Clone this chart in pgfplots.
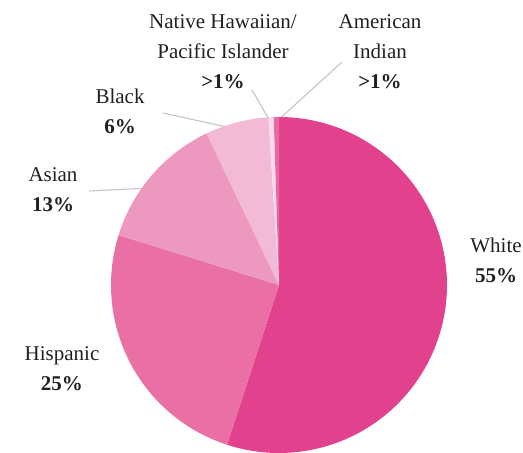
\documentclass[border=0pt]{standalone}
\usepackage{fontspec}
\setmainfont{Liberation Serif}
\usepackage{pgfplots}
\pgfplotsset{compat=1.18}
\definecolor{cWhite}{HTML}{E2418D}
\definecolor{cHisp}{HTML}{E96FA5}
\definecolor{cAsian}{HTML}{ED98BF}
\definecolor{cBlack}{HTML}{F3BAD6}
\definecolor{cNHPI}{HTML}{F8DAE9}
\definecolor{cAI}{HTML}{E56AA3}
\definecolor{txt}{HTML}{231F20}
\definecolor{lead}{HTML}{C4C4C4}
% shares (percent), clockwise from the top
\def\pWhite{55}
\def\pHisp{24.8}
\def\pAsian{13.1}
\def\pBlack{6.1}
\def\pNHPI{0.5}
\def\pAI{0.5}
\pgfmathsetmacro\aA{90}
\pgfmathsetmacro\aB{\aA-3.6*\pWhite}
\pgfmathsetmacro\aC{\aB-3.6*\pHisp}
\pgfmathsetmacro\aD{\aC-3.6*\pAsian}
\pgfmathsetmacro\aE{\aD-3.6*\pBlack}
\pgfmathsetmacro\aF{\aE-3.6*\pNHPI}
\pgfmathsetmacro\aG{\aF-3.6*\pAI}
\begin{document}
\begin{tikzpicture}
\begin{axis}[width=523pt,height=453pt,scale only axis,
  xmin=0,xmax=523,ymin=0,ymax=453,hide axis,clip=false]
\path (axis cs:0,0) rectangle (axis cs:523,453);
% leader lines
\draw[lead,line width=1.1pt] (axis cs:163,340) -- (axis cs:240,323);
\draw[lead,line width=1.1pt] (axis cs:89,262) -- (axis cs:150,265);
\draw[lead,line width=1.1pt] (axis cs:252,363) -- (axis cs:271,330);
\draw[lead,line width=1.1pt] (axis cs:342,391) -- (axis cs:275,330);
% slices
\addplot[fill=cWhite,draw=none,domain=\aB:\aA,samples=120] ({279+168*cos(x)},{168+168*sin(x)}) -- (axis cs:279,168) -- cycle;
\addplot[fill=cHisp,draw=none,domain=\aC:\aB,samples=60] ({279+168*cos(x)},{168+168*sin(x)}) -- (axis cs:279,168) -- cycle;
\addplot[fill=cAsian,draw=none,domain=\aD:\aC,samples=40] ({279+168*cos(x)},{168+168*sin(x)}) -- (axis cs:279,168) -- cycle;
\addplot[fill=cBlack,draw=none,domain=\aE:\aD,samples=20] ({279+168*cos(x)},{168+168*sin(x)}) -- (axis cs:279,168) -- cycle;
\addplot[fill=cNHPI,draw=none,domain=\aF:\aE,samples=5] ({279+168*cos(x)},{168+168*sin(x)}) -- (axis cs:279,168) -- cycle;
\addplot[fill=cAI,draw=none,domain=\aG:\aF,samples=5] ({279+168*cos(x)},{168+168*sin(x)}) -- (axis cs:279,168) -- cycle;
% labels
\tikzset{lab/.style={text=txt,align=center,font=\fontsize{21}{30}\selectfont,inner sep=0pt}}
\node[lab] at (axis cs:223,401) {Native Hawaiian/\\Pacific Islander\\\textbf{>1\%}};
\node[lab] at (axis cs:380,401) {American\\Indian\\\textbf{>1\%}};
\node[lab] at (axis cs:120,342) {Black\\\textbf{6\%}};
\node[lab] at (axis cs:53,263) {Asian\\\textbf{13\%}};
\node[lab] at (axis cs:62,84.5) {Hispanic\\\textbf{25\%}};
\node[lab] at (axis cs:496,193) {White\\\textbf{55\%}};
\end{axis}
\end{tikzpicture}
\end{document}
